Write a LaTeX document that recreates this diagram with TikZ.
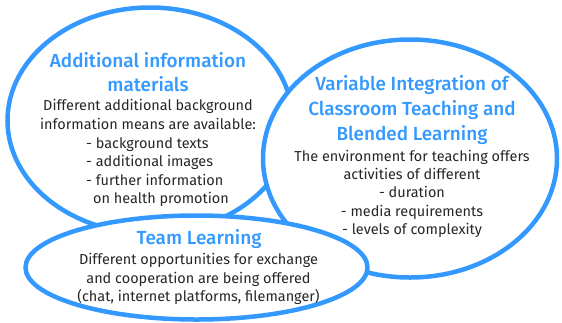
\documentclass[tikz,border=0pt]{standalone}
\usepackage{fontspec}
\setmainfont{Fira Sans}
\newfontfamily\headfont{Fira Sans}[UprightFont=* Medium]
\definecolor{bubbleblue}{RGB}{51,153,255}
\tikzset{
	bubble/.style={draw=bubbleblue, line width=4.5bp, fill=white},
	headtext/.style={text=bubbleblue, font=\fontsize{19}{24.5}\selectfont\headfont, align=center, inner sep=0pt, anchor=north},
	bodytext/.style={text=black!85, font=\fontsize{14.5}{18.6}\selectfont, align=center, inner sep=0pt, anchor=north}
}

\begin{document}
\begin{tikzpicture}[x=1bp, y=-1bp]
		%%%%% START %%%%%
		
		\useasboundingbox (0, 0) rectangle (562, 322);
		
		% additional information
		\draw[bubble] (150, 120.5) ellipse (142.5 and 113);
		\node[headtext] (addtitle) at (148, 52) {Additional information\\materials};
		\node[bodytext] (addtext) at (148, 99) {Different additional background\\information means are available:};
		\node[bodytext, align=left, anchor=north west] (addlist) at (86, 137) {- background texts\\- additional images\\- further information\\\hspace{7bp}on health promotion};
		
		% variable integration
		\draw[bubble] (410, 158.5) ellipse (147 and 119);
		\node[headtext, font=\fontsize{19}{25}\selectfont\headfont] (vartitle) at (412, 75) {Variable Integration of\\Classroom Teaching and\\Blended Learning};
		\node[bodytext, font=\fontsize{14.5}{18.3}\selectfont] (vartext) at (412, 150) {The environment for teaching offers\\activities of different\\- duration\\- media requirements\\- levels of complexity};
		
		% team learning
		\draw[bubble] (196.5, 267.5) ellipse (171 and 52);
		\node[headtext] (teamtitle) at (199, 229) {Team Learning};
		\node[bodytext] (teamtext) at (198.5, 253) {Different opportunities for exchange\\and cooperation are being offered\\(chat, internet platforms, filemanger)};
		
		%%%%% END %%%%%
\end{tikzpicture}
\end{document}
